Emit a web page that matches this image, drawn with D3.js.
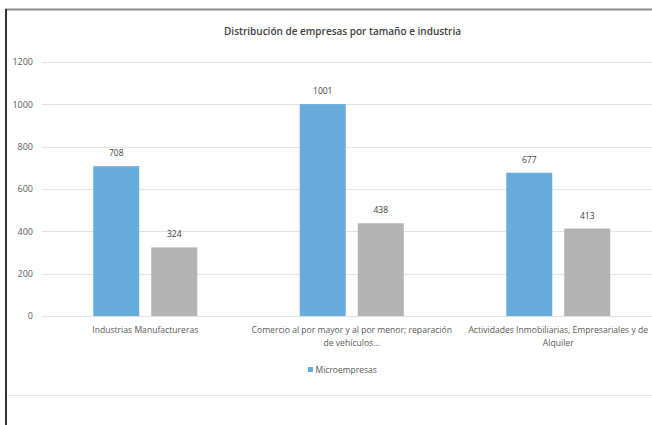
<!DOCTYPE html>
<html>
<head>
<meta charset="utf-8">
<script src="https://cdn.jsdelivr.net/npm/d3@7"></script>
<style>
  body { margin: 0; background: #fff; }
  svg { display: block; font-family: "Open Sans", sans-serif; }
</style>
</head>
<body>
<div id="chart"></div>
<script>
const width = 652;
const height = 425;

// Data
const categories = [
    ["Industrias Manufactureras"],
    ["Comercio al por mayor y al por menor; reparación", "de vehículos..."],
    ["Actividades Inmobiliarias, Empresariales y de", "Alquiler"]
];
const microValues = [708, 1001, 677];
const otherValues = [324, 438, 413];
const seriesNames = ["Microempresas", ""];
const yTicks = [0, 200, 400, 600, 800, 1000, 1200];

const blue = "#67acdb";
const gray = "#b3b3b3";

const svg = d3.select("#chart")
    .append("svg")
    .attr("width", width)
    .attr("height", height);

// Frame of the chart area
svg.append("line")
    .attr("x1", 5).attr("x2", width).attr("y1", 9.5).attr("y2", 9.5)
    .attr("stroke", "#8a8a8a").attr("stroke-width", 2);
svg.append("line")
    .attr("x1", 6).attr("x2", 6).attr("y1", 9).attr("y2", height)
    .attr("stroke", "#333").attr("stroke-width", 2);
svg.append("line")
    .attr("x1", 7).attr("x2", width).attr("y1", 395.5).attr("y2", 395.5)
    .attr("stroke", "#e6e6e6").attr("stroke-width", 1);

// Title
svg.append("text")
    .attr("x", 342.5)
    .attr("y", 35)
    .attr("text-anchor", "middle")
    .attr("font-size", 10)
    .attr("font-weight", 600)
    .attr("fill", "#404040")
    .text("Distribución de empresas por tamaño e industria");

// Scales
const x = d3.scaleBand()
    .domain(d3.range(categories.length))
    .range([42, 661.5]);

const y = d3.scaleLinear()
    .domain([0, 1200])
    .range([316, 62]);

const barW = 46;
const gap = 12;

// Grid lines
svg.append("g")
    .selectAll("line")
    .data(yTicks)
    .enter().append("line")
    .attr("x1", 42)
    .attr("x2", width)
    .attr("y1", d => Math.round(y(d)) + 0.5)
    .attr("y2", d => Math.round(y(d)) + 0.5)
    .attr("stroke", "#e3e3e3");

// Y axis labels
svg.append("g")
    .selectAll("text")
    .data(yTicks)
    .enter().append("text")
    .attr("x", 33)
    .attr("y", d => y(d) + 3.3)
    .attr("text-anchor", "end")
    .attr("font-size", 9)
    .attr("fill", "#595959")
    .text(d => d);

const groups = [
    { values: microValues, color: blue, offset: -gap / 2 - barW },
    { values: otherValues, color: gray, offset: gap / 2 }
];

groups.forEach(g => {
    const cx = i => x(i) + x.bandwidth() / 2 + g.offset;

    svg.append("g")
        .selectAll("rect")
        .data(g.values)
        .enter().append("rect")
        .attr("x", (d, i) => cx(i))
        .attr("y", d => y(d))
        .attr("width", barW)
        .attr("height", d => y(0) - y(d))
        .attr("fill", g.color);

    svg.append("g")
        .selectAll("text")
        .data(g.values)
        .enter().append("text")
        .attr("x", (d, i) => cx(i) + barW / 2)
        .attr("y", d => y(d) - 10)
        .attr("text-anchor", "middle")
        .attr("font-size", 8.5)
        .attr("fill", "#404040")
        .text(d => d);
});

// Category labels
const catLabels = svg.append("g")
    .selectAll("text")
    .data(categories)
    .enter().append("text")
    .attr("x", (d, i) => x(i) + x.bandwidth() / 2)
    .attr("y", 333)
    .attr("text-anchor", "middle")
    .attr("font-size", 8.6)
    .attr("fill", "#595959");

catLabels.selectAll("tspan")
    .data(d => d)
    .enter().append("tspan")
    .attr("x", function() { return this.parentNode.getAttribute("x"); })
    .attr("dy", (d, i) => i === 0 ? 0 : 12.5)
    .text(d => d);

// Legend
svg.append("rect")
    .attr("x", 308)
    .attr("y", 367)
    .attr("width", 5)
    .attr("height", 5)
    .attr("fill", blue);
svg.append("text")
    .attr("x", 315.5)
    .attr("y", 373)
    .attr("font-size", 8.5)
    .attr("fill", "#595959")
    .text(seriesNames[0]);
</script>
</body>
</html>
